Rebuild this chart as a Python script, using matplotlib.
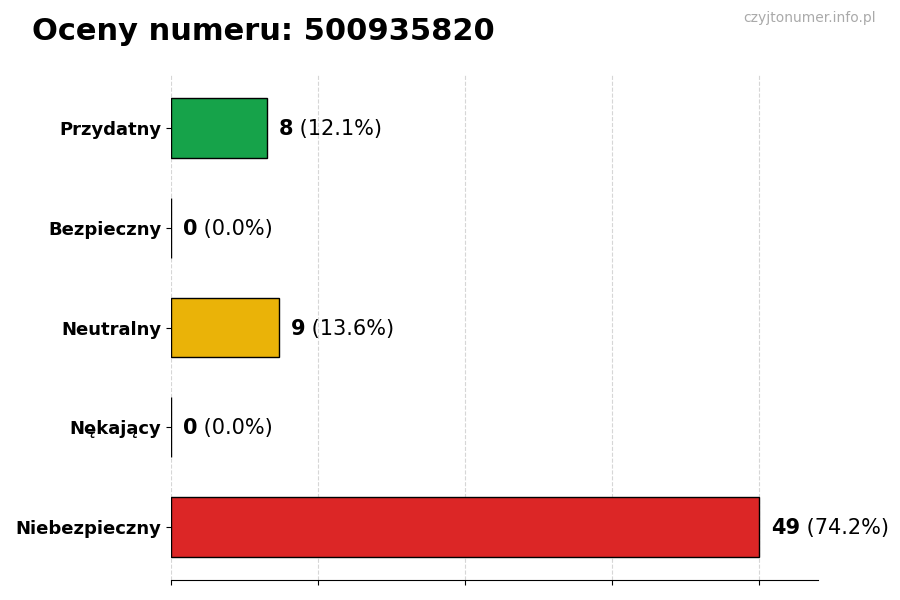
import matplotlib
matplotlib.use('Agg')
import matplotlib.pyplot as plt
import numpy as np

# data
categories = ['Przydatny', 'Bezpieczny', 'Neutralny', 'Nękający', 'Niebezpieczny']
counts = [8, 0, 9, 0, 49]
percents = [12.1, 0.0, 13.6, 0.0, 74.2]
colors = ['#16a34a', '#9ca3af', '#eab308', '#f97316', '#dc2626']
title = 'Oceny numeru: 500935820'
watermark = 'czyjtonumer.info.pl'

fig = plt.figure(figsize=(9, 6), dpi=100)
ax = fig.add_axes([0.19, 0.0333, 0.719, 0.8417])

ypos = np.arange(len(categories))
ax.barh(ypos, counts, height=0.6, color=colors, edgecolor='black',
        linewidth=1, zorder=2)
ax.invert_yaxis()
ax.set_yticks(ypos)
ax.set_yticklabels(categories, fontsize=13, fontweight='bold')

vmax = max(counts)
ax.set_xlim(0, vmax * 1.1)
ax.set_xticks(np.linspace(0, vmax, 5))
ax.set_xticklabels([])
# grid drawn faintly over the bars, like the original
ax.grid(axis='x', linestyle='--', color='#bbbbbb', linewidth=0.8, alpha=0.6, zorder=3)

for s in ['top', 'right', 'left']:
    ax.spines[s].set_visible(False)

# value labels: bold count, normal percentage
off = vmax * 0.02
for y, c, p in zip(ypos, counts, percents):
    t = ax.text(c + off, y + 0.01, str(c), fontsize=15, fontweight='bold', va='center', ha='left')
    ax.annotate(' (%.1f%%)' % p, xy=(1, 0), xycoords=t, fontsize=15,
                va='bottom', ha='left')

fig.text(0.035, 0.947, title, fontsize=22, fontweight='bold', va='center', ha='left')
fig.text(0.973, 0.97, watermark, fontsize=10, color='#aaaaaa', va='center', ha='right')

fig.savefig('out.png', dpi=100)
plt.close()
